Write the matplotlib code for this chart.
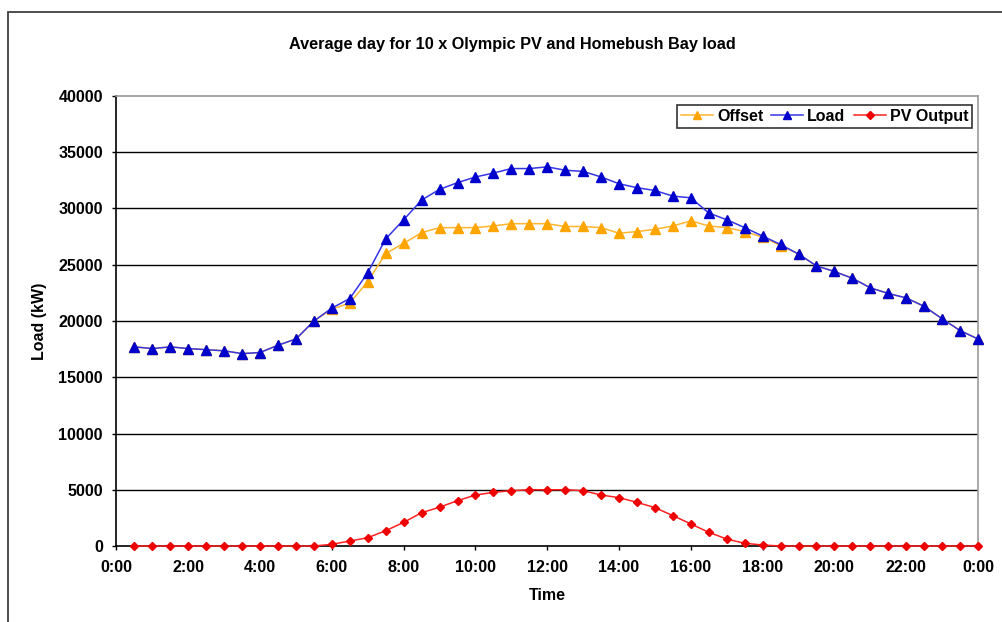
import numpy as np
import matplotlib
matplotlib.use('Agg')
import matplotlib.pyplot as plt
from matplotlib.patches import Rectangle

plt.rcParams['font.family'] = ['Liberation Sans', 'DejaVu Sans']
plt.rcParams['font.weight'] = 'bold'

# half-hour slots, 0:30 .. 24:00
hours = np.arange(1, 49) * 0.5

load = [17700, 17550, 17700, 17550, 17450, 17350, 17100, 17200,
        17850, 18400, 20000, 21150, 22000, 24300, 27300, 29000,
        30750, 31700, 32300, 32800, 33150, 33550, 33550, 33700,
        33400, 33300, 32800, 32200, 31850, 31600, 31100, 30950,
        29600, 29000, 28300, 27550, 26800, 25950, 24900, 24400,
        23800, 22950, 22450, 22050, 21300, 20200, 19150, 18400]

offset = [17700, 17550, 17700, 17550, 17450, 17350, 17100, 17200,
          17850, 18400, 20000, 21050, 21600, 23500, 26000, 26900,
          27850, 28300, 28300, 28300, 28450, 28650, 28650, 28650,
          28400, 28400, 28300, 27800, 27950, 28150, 28450, 28900,
          28450, 28300, 27950, 27450, 26700, 25950, 24900, 24400,
          23800, 22950, 22450, 22050, 21300, 20200, 19150, 18400]

pv_output = [0, 0, 0, 0, 0, 0, 0, 0,
             0, 0, 0, 150, 440, 740, 1360, 2100,
             2960, 3450, 4030, 4530, 4770, 4920, 5000, 5000,
             5000, 4920, 4530, 4300, 3880, 3410, 2700, 1960,
             1220, 620, 240, 90, 0, 0, 0, 0,
             0, 0, 0, 0, 0, 0, 0, 0]

x_tick_pos = list(range(0, 25, 2))
x_tick_labels = ['0:00', '2:00', '4:00', '6:00', '8:00', '10:00', '12:00',
                 '14:00', '16:00', '18:00', '20:00', '22:00', '0:00']
y_ticks = list(range(0, 40001, 5000))

W, H = 1003, 622
fig = plt.figure(figsize=(W / 100, H / 100), dpi=100)
fig.patch.set_facecolor('white')

# outer chart frame (runs off the right and bottom of the picture)
fig.patches.append(Rectangle((8 / W, -0.1), 1.2, 1 - 12 / H + 0.1,
                             transform=fig.transFigure, fill=False,
                             edgecolor='#404040', linewidth=1.3))

left, right, top, bottom = 116.5, 978, 96, 546
ax = fig.add_axes([left / W, 1 - bottom / H, (right - left) / W, (bottom - top) / H])

ax.plot(hours, offset, color='#FFB52E', lw=1.1, marker='^', ms=6.5,
        mfc='#FFA500', mec='#FFA500', label='Offset', clip_on=False, zorder=3)
ax.plot(hours, load, color='#3535E6', lw=1.1, marker='^', ms=6.5,
        mfc='#0000CC', mec='#0000CC', label='Load', clip_on=False, zorder=4)
ax.plot(hours, pv_output, color='#FF2020', lw=1.1, marker='D', ms=4.5,
        mfc='#EE0000', mec='#EE0000', label='PV Output', clip_on=False, zorder=5)

ax.set_xlim(0, 24)
ax.set_ylim(0, 40000)
ax.set_xticks(x_tick_pos)
ax.set_xticklabels(x_tick_labels)
ax.set_yticks(y_ticks)
ax.set_yticklabels([str(v) for v in y_ticks])
ax.tick_params(direction='out', length=2.8, width=1, colors='black',
               labelsize=11.6, pad=7)

ax.yaxis.grid(True, color='black', lw=1.0)
ax.set_axisbelow(True)
for tick in ax.yaxis.get_major_ticks():
    if tick.get_loc() in (0, 40000):
        tick.gridline.set_visible(False)

for side in ('left', 'bottom'):
    ax.spines[side].set_color('black')
    ax.spines[side].set_linewidth(1.2)
for side in ('top', 'right'):
    ax.spines[side].set_color('#9A9A9A')
    ax.spines[side].set_linewidth(1.2)

ax.set_xlabel('Time', fontsize=11.5, fontweight='bold')
ax.xaxis.set_label_coords(0.5, -0.093)
ax.set_ylabel('Load (kW)', fontsize=11.5, fontweight='bold')
ax.yaxis.set_label_coords(-0.0807, 0.5)

fig.text(512 / W, 1 - 44 / H, 'Average day for 10 x Olympic PV and Homebush Bay load',
         ha='center', va='center', fontsize=11.7, fontweight='bold')

leg = ax.legend(loc='upper right', bbox_to_anchor=(972 / W, 1 - 105 / H),
                bbox_transform=fig.transFigure, ncol=3, fontsize=11.5,
                frameon=True, fancybox=False, edgecolor='black',
                handlelength=2.0, handletextpad=0.25, columnspacing=0.5,
                borderpad=0.25, borderaxespad=0, markerscale=0.8)
leg.get_frame().set_linewidth(1.2)

fig.savefig('out.png', dpi=100)
